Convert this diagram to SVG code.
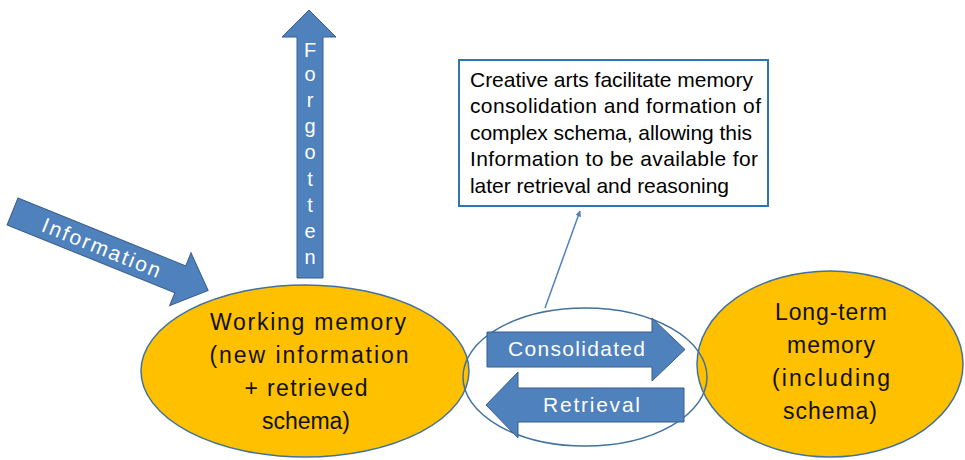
<svg xmlns="http://www.w3.org/2000/svg" width="965" height="460" viewBox="0 0 965 460">
  <style>
    .mem { fill: #ffc000; stroke: #41719c; stroke-width: 1.5; }
    .arrow { fill: #4f81bd; stroke: #385d8a; stroke-width: 1; }
    .atext { font-family: "Liberation Sans", Arial, sans-serif; fill: #ffffff; font-size: 21px; }
    .mtext { font-family: "Liberation Sans", Arial, sans-serif; fill: #111111; font-size: 23px; text-anchor: middle; }
    .btext { font-family: "Liberation Sans", Arial, sans-serif; fill: #000000; font-size: 21px; }
    .conn { stroke: #4f81bd; stroke-width: 1.5; fill: none; }
  </style>
  <defs>
    <marker id="ah" viewBox="0 0 10 10" refX="9" refY="5" markerWidth="6" markerHeight="6" orient="auto" markerUnits="userSpaceOnUse">
      <path d="M0,0 L10,5 L0,10 Z" fill="#4f81bd"/>
    </marker>
  </defs>
  <rect width="965" height="460" fill="#ffffff"/>

  <g id="working-memory">
    <ellipse class="mem" cx="305" cy="371" rx="164" ry="86"/>
    <text class="mtext" x="308" y="330" textLength="196">Working memory</text>
    <text class="mtext" x="309" y="363" textLength="199">(new information</text>
    <text class="mtext" x="306" y="396" textLength="123">+ retrieved</text>
    <text class="mtext" x="306" y="429" textLength="88">schema)</text>
  </g>

  <g id="long-term-memory">
    <ellipse class="mem" cx="830" cy="364" rx="133" ry="93"/>
    <text class="mtext" x="831" y="320" textLength="112">Long-term</text>
    <text class="mtext" x="831" y="353" textLength="88">memory</text>
    <text class="mtext" x="831" y="386" textLength="118">(including</text>
    <text class="mtext" x="830" y="419" textLength="94">schema)</text>
  </g>

  <g id="transfer">
    <ellipse cx="585" cy="377" rx="122" ry="69" fill="none" stroke="#41719c" stroke-width="1.5"/>
  </g>

  <g id="consolidated">
    <path class="arrow" d="M487,332 L652,332 L652,318 L685,349.5 L652,381 L652,367 L487,367 Z"/>
    <text class="atext" x="576.5" y="356" text-anchor="middle" textLength="137">Consolidated</text>
  </g>

  <g id="retrieval">
    <path class="arrow" d="M684,388 L518,388 L518,372 L486,405 L518,438 L518,422 L684,422 Z"/>
    <text class="atext" x="591.5" y="412" text-anchor="middle" textLength="97">Retrieval</text>
  </g>

  <g id="information">
    <g transform="translate(12.5,211.5) rotate(22)">
      <path class="arrow" d="M0,-14.5 L181,-14.5 L181,-28.5 L211,0 L181,28.5 L181,14.5 L0,14.5 Z"/>
      <text class="atext" x="96" y="7.5" text-anchor="middle" textLength="126">Information</text>
    </g>
  </g>

  <g id="forgotten">
    <path class="arrow" d="M297,278 L297,37 L282,37 L309,10 L336,37 L323,37 L323,278 Z"/>
    <g class="atext" text-anchor="middle" style="font-size:20px">
      <text x="310" y="57">F</text>
      <text x="310" y="81">o</text>
      <text x="310" y="107">r</text>
      <text x="310" y="133">g</text>
      <text x="310" y="159">o</text>
      <text x="310" y="186">t</text>
      <text x="310" y="212">t</text>
      <text x="310" y="238">e</text>
      <text x="310" y="264">n</text>
    </g>
  </g>

  <g id="note">
    <rect x="459" y="60" width="309" height="146" fill="#ffffff" stroke="#2e75b6" stroke-width="2"/>
    <text class="btext" x="470" y="87" textLength="283">Creative arts facilitate memory</text>
    <text class="btext" x="470" y="113" textLength="291">consolidation and formation of</text>
    <text class="btext" x="470" y="140" textLength="282">complex schema, allowing this</text>
    <text class="btext" x="470" y="166" textLength="288">Information to be available for</text>
    <text class="btext" x="470" y="193" textLength="259">later retrieval and reasoning</text>
  </g>

  <g id="connectors">
    <line class="conn" x1="545" y1="308" x2="580" y2="211" marker-end="url(#ah)"/>
  </g>
</svg>
